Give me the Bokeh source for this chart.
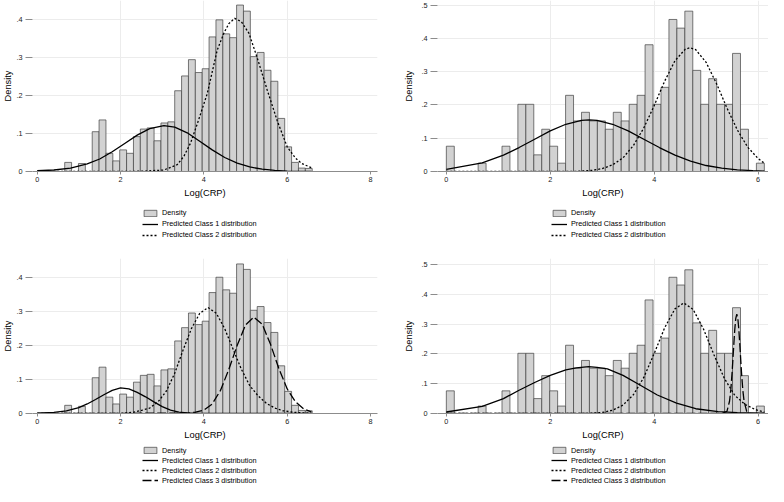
import numpy as np
from bokeh.plotting import figure
from bokeh.models import (FixedTicker, Legend, LegendItem, Range1d,
                          CustomJSTickFormatter)
from bokeh.layouts import column, row
from bokeh.embed import file_html
from bokeh.resources import INLINE

FONT = "Liberation Sans"

# ---------------- data: left column (full sample histogram) ----------------
left_bin_start = 0.66
left_bin_width = 0.165
left_density = [0.024, 0.0, 0.021, 0.0, 0.105, 0.136, 0.048, 0.028, 0.057, 0.048,
                0.092, 0.112, 0.115, 0.081, 0.128, 0.131, 0.213, 0.252, 0.295, 0.261,
                0.271, 0.355, 0.400, 0.363, 0.353, 0.439, 0.423, 0.303, 0.314, 0.267,
                0.238, 0.140, 0.065, 0.024, 0.009, 0.008]

# ---------------- data: right column histogram ----------------
right_bin_start = 0.0
right_bin_width = 0.153
right_density = [0.076, 0.0, 0.0, 0.0, 0.025, 0.0, 0.0, 0.076, 0.0, 0.202,
                 0.202, 0.050, 0.127, 0.076, 0.025, 0.229, 0.152, 0.178, 0.152, 0.152,
                 0.127, 0.178, 0.152, 0.202, 0.229, 0.381, 0.202, 0.253, 0.457, 0.431,
                 0.482, 0.304, 0.202, 0.279, 0.202, 0.202, 0.355, 0.127, 0.0, 0.025]

# ---------------- predicted class curves ----------------
tl_c1_x = [0, 0.4, 0.8, 1.2, 1.5, 1.8, 2.1, 2.4, 2.7, 3.04, 3.3, 3.6, 3.9, 4.2, 4.5,
           4.8, 5.1, 5.4, 5.7, 6.0, 6.3, 6.58]
tl_c1_y = [0.002, 0.004, 0.009, 0.020, 0.033, 0.052, 0.074, 0.096, 0.113, 0.121, 0.117,
           0.102, 0.080, 0.057, 0.037, 0.022, 0.012, 0.006, 0.003, 0.001, 0.0005, 0.0002]
tl_c2_x = [0, 2.0, 2.6, 3.04, 3.36, 3.52, 3.68, 3.84, 4.08, 4.32, 4.48, 4.6, 4.74, 4.9,
           5.08, 5.28, 5.52, 5.76, 6.0, 6.2, 6.35, 6.58]
tl_c2_y = [0, 0, 0.001, 0.004, 0.018, 0.040, 0.075, 0.125, 0.205, 0.320, 0.365, 0.390,
           0.404, 0.395, 0.365, 0.300, 0.215, 0.134, 0.065, 0.035, 0.021, 0.010]

tr_c1_x = [0, 0.69, 1.1, 1.4, 1.7, 2.0, 2.3, 2.6, 2.75, 2.9, 3.2, 3.5, 3.8, 4.1, 4.4,
           4.7, 5.0, 5.3, 5.6, 5.9, 6.12]
tr_c1_y = [0.0065, 0.026, 0.049, 0.072, 0.097, 0.122, 0.142, 0.1535, 0.155, 0.1535, 0.142,
           0.122, 0.097, 0.072, 0.049, 0.031, 0.018, 0.010, 0.005, 0.0024, 0.0013]
tr_c2_x = [0, 2.0, 2.5, 2.8, 3.0, 3.2, 3.4, 3.6, 3.8, 4.0, 4.2, 4.4, 4.6, 4.69, 4.8,
           5.0, 5.2, 5.4, 5.6, 5.8, 6.0, 6.12]
tr_c2_y = [0, 0, 0.0007, 0.0033, 0.0086, 0.020, 0.041, 0.078, 0.131, 0.198, 0.271, 0.333,
           0.368, 0.372, 0.366, 0.328, 0.264, 0.191, 0.125, 0.073, 0.039, 0.025]

bl_c1_x = [0, 0.4, 0.7, 1.0, 1.2, 1.4, 1.6, 1.8, 2.0, 2.2, 2.4, 2.6, 2.8, 3.0, 3.2,
           3.4, 3.6, 3.9, 4.5, 6.58]
bl_c1_y = [0.001, 0.003, 0.008, 0.017, 0.028, 0.041, 0.055, 0.068, 0.075, 0.072, 0.062,
           0.049, 0.034, 0.020, 0.010, 0.004, 0.0015, 0.0003, 0, 0]
bl_c2_x = [0, 2.0, 2.3, 2.5, 2.7, 2.9, 3.1, 3.3, 3.5, 3.7, 3.9, 4.1, 4.3, 4.5, 4.7,
           4.9, 5.1, 5.3, 5.5, 5.7, 5.9, 6.2, 6.58]
bl_c2_y = [0, 0.0003, 0.0035, 0.009, 0.016, 0.034, 0.066, 0.118, 0.186, 0.249, 0.294,
           0.311, 0.294, 0.249, 0.189, 0.130, 0.082, 0.052, 0.030, 0.016, 0.008, 0.003, 0.0008]
bl_c3_x = [0, 3.6, 3.8, 4.0, 4.2, 4.4, 4.6, 4.8, 5.0, 5.2, 5.4, 5.6, 5.8, 6.0, 6.2,
           6.4, 6.58]
bl_c3_y = [0, 0.001, 0.004, 0.010, 0.028, 0.068, 0.130, 0.200, 0.260, 0.283, 0.262,
           0.203, 0.132, 0.072, 0.034, 0.013, 0.005]

br_c1_x = [0, 0.69, 1.1, 1.4, 1.7, 2.0, 2.3, 2.5, 2.74, 2.9, 3.1, 3.4, 3.7, 4.06, 4.43,
           4.8, 5.23, 5.6, 6.03, 6.12]
br_c1_y = [0.005, 0.024, 0.050, 0.078, 0.104, 0.128, 0.146, 0.153, 0.157, 0.155, 0.150,
           0.128, 0.098, 0.062, 0.035, 0.016, 0.006, 0.003, 0.0015, 0.001]
br_c2_x = [0, 2.5, 2.8, 3.0, 3.2, 3.4, 3.6, 3.8, 4.0, 4.2, 4.4, 4.57, 4.75, 4.95, 5.15,
           5.35, 5.55, 5.75, 5.95, 6.12]
br_c2_y = [0, 0.0002, 0.001, 0.0035, 0.011, 0.028, 0.063, 0.121, 0.201, 0.287, 0.351,
           0.371, 0.349, 0.283, 0.197, 0.118, 0.061, 0.030, 0.013, 0.005]
br_c3_x = [0, 5.3, 5.4, 5.45, 5.475, 5.5, 5.525, 5.55, 5.57, 5.59, 5.61, 5.63, 5.655,
           5.68, 5.705, 5.73, 5.78, 5.85, 6.12]
br_c3_y = [0, 0, 0.007, 0.041, 0.080, 0.139, 0.211, 0.280, 0.319, 0.333, 0.319, 0.280,
           0.211, 0.139, 0.080, 0.041, 0.007, 0.0002, 0]

x_title = "Log(CRP)"
y_title = "Density"
legend_labels = ["Density", "Predicted Class 1 distribution",
                 "Predicted Class 2 distribution", "Predicted Class 3 distribution"]
left_xticks = [0, 2, 4, 6, 8]
right_xticks = [0, 2, 4, 6]
left_yticks = [0, 0.1, 0.2, 0.3, 0.4]
right_yticks = [0, 0.1, 0.2, 0.3, 0.4, 0.5]

DASHES = ["solid", "2 2", "9 3"]
AXIS_GRAY = "#8c8c8c"
GRID = "#ececec"
BAR_FILL = "#d2d2d2"
BAR_LINE = "#404040"
W_LEFT, W_RIGHT = 392, 376


def style_curve(p, xs, ys, i):
    return p.line(xs, ys, line_color="black", line_width=1.3, line_dash=DASHES[i])


def plot_part(width, height, bin_start, bin_width, dens, curves, xr, yr, xticks,
              yticks, xgrid, border_left, border_right, border_top, border_bottom,
              ylab_standoff):
    p = figure(width=width, height=height, output_backend="svg",
               toolbar_location=None, tools="", x_range=Range1d(*xr),
               y_range=Range1d(*yr), min_border_left=border_left,
               min_border_right=border_right, min_border_top=border_top,
               min_border_bottom=border_bottom)
    p.outline_line_color = None
    p.background_fill_color = "white"
    p.border_fill_color = "white"

    dens = np.array(dens)
    edges = bin_start + bin_width * np.arange(len(dens) + 1)
    mask = dens > 0
    p.quad(left=edges[:-1][mask], right=edges[1:][mask], bottom=0, top=dens[mask],
           fill_color=BAR_FILL, line_color=BAR_LINE, line_width=0.7)
    for i, (cx, cy) in enumerate(curves):
        style_curve(p, cx, cy, i)

    xa = p.xaxis[0]
    xa.ticker = FixedTicker(ticks=xticks)
    xa.axis_line_color = AXIS_GRAY
    xa.major_tick_line_color = AXIS_GRAY
    xa.major_tick_out = 3
    xa.major_tick_in = 0
    xa.minor_tick_line_color = None
    xa.major_label_standoff = 2
    xa.major_label_text_font = FONT
    xa.major_label_text_font_size = "7.3px"
    xa.major_label_text_color = "#222222"
    xa.axis_label = x_title
    xa.axis_label_standoff = 3
    xa.axis_label_text_font = FONT
    xa.axis_label_text_font_size = "9.3px"
    xa.axis_label_text_font_style = "normal"
    xa.axis_label_text_color = "black"

    ya = p.yaxis[0]
    ya.ticker = FixedTicker(ticks=yticks)
    ya.axis_line_color = None
    ya.major_tick_line_color = AXIS_GRAY
    ya.major_tick_out = 7
    ya.major_tick_in = 0
    ya.minor_tick_line_color = None
    ya.major_label_standoff = 3
    ya.major_label_text_font = FONT
    ya.major_label_text_font_size = "7.3px"
    ya.major_label_text_color = "#222222"
    ya.formatter = CustomJSTickFormatter(
        code="return tick == 0 ? '0' : tick.toFixed(1).replace(/^0/, '');")
    ya.axis_label = y_title
    ya.axis_label_standoff = ylab_standoff
    ya.axis_label_text_font = FONT
    ya.axis_label_text_font_size = "9.3px"
    ya.axis_label_text_font_style = "normal"
    ya.axis_label_text_color = "black"

    p.xgrid.ticker = FixedTicker(ticks=xgrid)
    p.xgrid.grid_line_color = GRID
    p.ygrid.ticker = FixedTicker(ticks=[t for t in yticks if t > 0])
    p.ygrid.grid_line_color = GRID
    return p


def legend_part(width, height, n_curves, border_left, border_right, leg_x, leg_y,
                row_h):
    # same side borders as the plot above it, so the column keeps both frames aligned
    q = figure(width=width, height=height, output_backend="svg",
               toolbar_location=None, tools="", x_range=Range1d(0, 1),
               y_range=Range1d(0, 1), x_axis_type=None, y_axis_type=None,
               min_border_left=border_left, min_border_right=border_right,
               min_border_top=0, min_border_bottom=0)
    q.outline_line_color = None
    q.grid.visible = False
    q.background_fill_color = "white"
    q.border_fill_color = "white"
    nan = [float("nan")]
    # legend keys only (NaN data: nothing is drawn in the frame)
    key_bar = q.quad(left=nan, right=nan, bottom=nan, top=nan, fill_color=BAR_FILL,
                     line_color=BAR_LINE, line_width=0.7)
    items = [LegendItem(label=legend_labels[0], renderers=[key_bar])]
    for i in range(n_curves):
        r = style_curve(q, nan, nan, i)
        items.append(LegendItem(label=legend_labels[i + 1], renderers=[r]))
    leg = Legend(items=items, location=(leg_x, leg_y), orientation="vertical",
                 glyph_width=16, glyph_height=8, label_height=row_h, spacing=0,
                 padding=0, margin=0, label_standoff=4,
                 border_line_color=None, background_fill_alpha=0,
                 label_text_font=FONT, label_text_font_size="7.3px",
                 label_text_color="black")
    q.add_layout(leg)
    return q


# top row 250 px: plot 201 + legend 49 ; bottom row 236 px: plot 193 + legend 43
p_tl = plot_part(W_LEFT, 201, left_bin_start, left_bin_width, left_density,
                 [(tl_c1_x, tl_c1_y), (tl_c2_x, tl_c2_y)],
                 (-0.113, 8.167), (0, 0.451), left_xticks, left_yticks, [2, 4, 6],
                 32, 15, 0, 30, 0)
p_tr = plot_part(W_RIGHT, 201, right_bin_start, right_bin_width, right_density,
                 [(tr_c1_x, tr_c1_y), (tr_c2_x, tr_c2_y)],
                 (-0.17, 6.2), (0, 0.514), right_xticks, right_yticks, [2, 4, 6],
                 45, 0, 0, 30, 4)
p_bl = plot_part(W_LEFT, 193, left_bin_start, left_bin_width, left_density,
                 [(bl_c1_x, bl_c1_y), (bl_c2_x, bl_c2_y), (bl_c3_x, bl_c3_y)],
                 (-0.113, 8.167), (0, 0.455), left_xticks, left_yticks, [2, 4, 6],
                 32, 15, 8, 30, 0)
p_br = plot_part(W_RIGHT, 193, right_bin_start, right_bin_width, right_density,
                 [(br_c1_x, br_c1_y), (br_c2_x, br_c2_y), (br_c3_x, br_c3_y)],
                 (-0.17, 6.2), (0, 0.52), right_xticks, right_yticks, [2, 4, 6],
                 45, 0, 8, 30, 4)

l_tl = legend_part(W_LEFT, 49, 2, 32, 15, 110, 10, 11)
l_tr = legend_part(W_RIGHT, 49, 2, 45, 0, 114, 10, 11)
l_bl = legend_part(W_LEFT, 43, 3, 32, 15, 110, 1, 10)
l_br = legend_part(W_RIGHT, 43, 3, 45, 0, 114, 1, 10)

layout = column(row(column(p_tl, l_tl), column(p_tr, l_tr)),
                row(column(p_bl, l_bl), column(p_br, l_br)))
open("out.html", "w").write(file_html(layout, INLINE))
